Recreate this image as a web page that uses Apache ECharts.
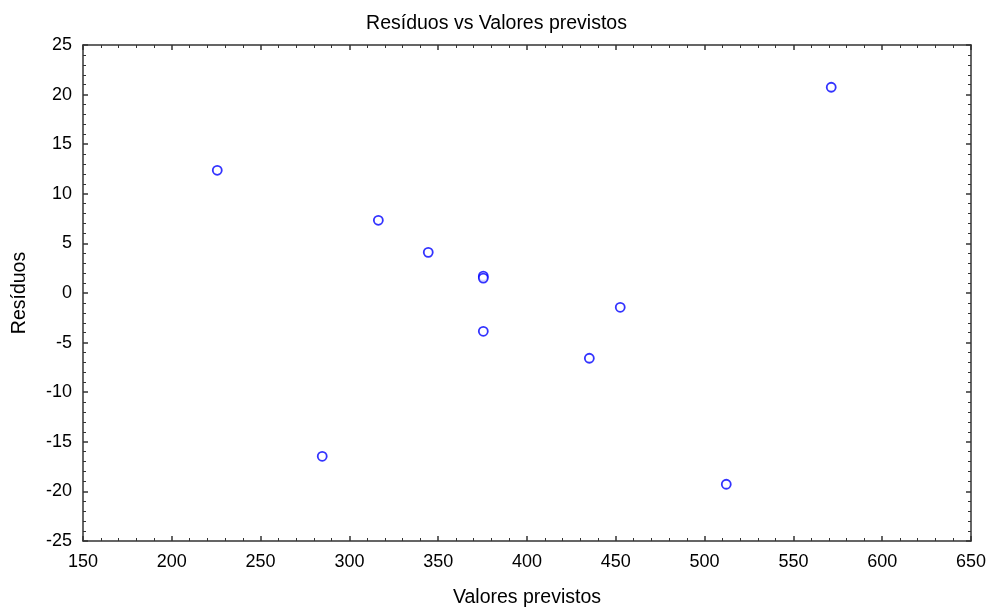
<!DOCTYPE html>
<html>
<head>
<meta charset="utf-8">
<script src="https://cdn.jsdelivr.net/npm/echarts@6/dist/echarts.min.js"></script>
<style>html,body{margin:0;padding:0;background:#fff}#c{width:993px;height:610px}</style>
</head>
<body>
<div id="c"></div>
<script>
var predicted = [225.6, 316.3, 344.4, 375.4, 375.4, 375.4, 452.5, 435.1, 284.7, 512.2, 571.3];
var residuals = [12.37, 7.33, 4.1, 1.7, 1.5, -3.86, -1.44, -6.58, -16.46, -19.28, 20.74];
var titleText = 'Resíduos vs Valores previstos';
var xName = 'Valores previstos';
var yName = 'Resíduos';

var pts = predicted.map(function(x, i){ return [x, residuals[i]]; });
var FONT = '"Liberation Sans", Arial, sans-serif';
var lineStyle = {color:'#333', width:1.5};
function axisCommon(showLabel){
  return {
    axisLine:{show:true, onZero:false, lineStyle:lineStyle},
    axisTick:{show:true, inside:true, length:5, lineStyle:{color:'#333', width:1.5}},
    minorTick:{show:true, splitNumber:5, length:3, lineStyle:{color:'#333', width:1}},
    splitLine:{show:false},
    axisLabel:{show:showLabel, color:'#000', fontSize:18, fontFamily:FONT}
  };
}
var chart = echarts.init(document.getElementById('c'), null, {renderer:'canvas'});
var xb = Object.assign({type:'value', min:150, max:650, interval:50, position:'bottom',
  name:xName, nameLocation:'middle', nameGap:47,
  nameTextStyle:{color:'#000', fontSize:19.5, fontFamily:FONT}}, axisCommon(true));
xb.axisLabel.margin = 12;
var xt = Object.assign({type:'value', min:150, max:650, interval:50, position:'top'}, axisCommon(false));
var yl = Object.assign({type:'value', min:-25, max:25, interval:5, position:'left',
  name:yName, nameLocation:'middle', nameGap:53,
  nameTextStyle:{color:'#000', fontSize:19.5, fontFamily:FONT}}, axisCommon(true));
yl.axisLabel.margin = 11;
var yr = Object.assign({type:'value', min:-25, max:25, interval:5, position:'right'}, axisCommon(false));

chart.setOption({
  animation:false,
  backgroundColor:'#fff',
  title:{text:titleText, left:'center', top:9,
    textStyle:{color:'#000', fontSize:19.5, fontWeight:'normal', fontFamily:FONT}},
  grid:{left:83, right:22, top:45, bottom:69, containLabel:false, outerBoundsMode:'none'},
  xAxis:[xb, xt],
  yAxis:[yl, yr],
  series:[{
    type:'scatter', xAxisIndex:0, yAxisIndex:0, data:pts,
    symbol:'circle', symbolSize:9,
    itemStyle:{color:'#fff', borderColor:'#0000ff', borderWidth:1.8}
  }]
});
</script>
</body>
</html>
